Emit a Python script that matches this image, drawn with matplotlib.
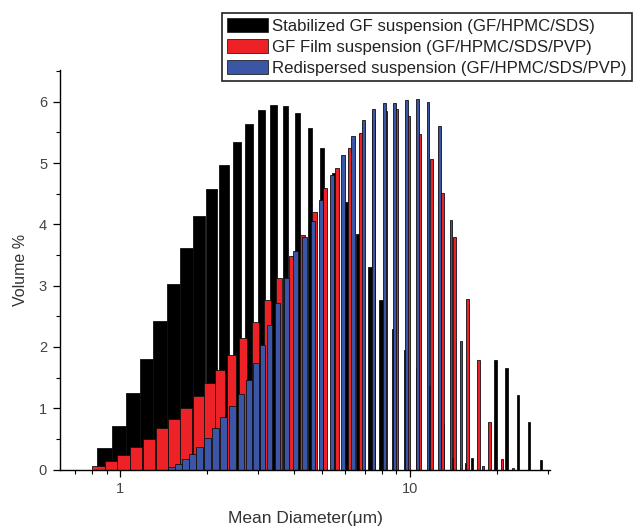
import matplotlib
matplotlib.use("Agg")
import matplotlib.pyplot as plt
from matplotlib.patches import Patch
from matplotlib.ticker import FixedLocator, MultipleLocator, NullFormatter, FuncFormatter
import numpy as np

plt.rcParams['font.family'] = ['Liberation Sans', 'DejaVu Sans']

# --- data (diameter in um, volume in %) ---
black_x = [0.882, 0.994, 1.111, 1.236, 1.374, 1.529, 1.698, 1.869, 2.065, 2.288,
           2.537, 2.797, 3.081, 3.388, 3.727, 4.111, 4.539, 4.973, 5.470, 6.016,
           6.633, 7.318, 7.988, 8.831, 9.726, 10.68, 11.75, 12.90, 14.19, 15.64,
           16.43, 19.80, 21.60, 23.63, 25.79, 28.30]
black_vol = [0.35, 0.71, 1.25, 1.81, 2.42, 3.03, 3.61, 4.14, 4.58, 4.97,
             5.35, 5.64, 5.86, 5.95, 5.94, 5.82, 5.58, 5.25, 4.84, 4.36,
             3.84, 3.31, 2.76, 2.29, 1.95, 1.65, 1.36, 0.75, 0.18, 0.11,
             0.18, 1.78, 1.65, 1.22, 0.77, 0.16]

red_x = [0.842, 0.933, 1.030, 1.138, 1.261, 1.396, 1.538, 1.693, 1.869, 2.043,
         2.222, 2.424, 2.656, 2.933, 3.227, 3.534, 3.909, 4.261, 4.693, 5.105,
         5.601, 6.211, 6.793, 7.513, 8.265, 9.022, 9.921, 10.83, 11.91, 13.00,
         14.30, 15.85, 17.30, 18.87, 20.77, 22.66]
red_vol = [0.06, 0.14, 0.24, 0.36, 0.50, 0.67, 0.83, 1.01, 1.20, 1.41,
           1.63, 1.87, 2.14, 2.41, 2.76, 3.12, 3.48, 3.83, 4.20, 4.59,
           4.92, 5.25, 5.49, 5.70, 5.85, 5.89, 5.77, 5.48, 5.07, 4.51,
           3.80, 2.78, 1.79, 0.77, 0.17, 0.03]

blue_x = [1.508, 1.589, 1.682, 1.781, 1.883, 2.003, 2.135, 2.281, 2.444, 2.614,
          2.797, 2.945, 3.101, 3.290, 3.506, 3.766, 4.030, 4.329, 4.648, 4.961,
          5.405, 5.875, 6.375, 6.923, 7.495, 8.200, 8.880, 9.741, 10.63, 11.57,
          12.69, 13.91, 15.08, 17.86]
blue_vol = [0.04, 0.09, 0.17, 0.25, 0.37, 0.51, 0.67, 0.85, 1.03, 1.24,
            1.46, 1.73, 2.03, 2.36, 2.72, 3.12, 3.56, 3.80, 4.05, 4.40,
            4.81, 5.14, 5.44, 5.70, 5.89, 5.98, 5.98, 6.03, 6.05, 5.99,
            5.61, 4.08, 2.10, 0.05]

labels = ["Stabilized GF suspension (GF/HPMC/SDS)",
          "GF Film suspension (GF/HPMC/SDS/PVP)",
          "Redispersed suspension (GF/HPMC/SDS/PVP)"]
colors = ["#000000", "#ec2227", "#3b56a6"]


def bar_edges(x, knots, widths_px):
    # bars get narrower towards large diameters (width given in px per 290 px decade)
    lx = np.log10(x)
    w = np.interp(lx, np.log10(knots), np.array(widths_px) / 290.0)
    return 10 ** (lx - w / 2), 10 ** (lx + w / 2)


fig = plt.figure(figsize=(6.33, 5.28), dpi=100)
ax = fig.add_axes([60 / 633, 1 - 469.5 / 528, 490 / 633, 399.5 / 528])

series = [
    (black_x, black_vol, [0.85, 1.43, 1.89, 2.6, 3.4, 4.9, 12.7, 16.1, 33],
     [15, 13.3, 12, 8.5, 6, 4, 4, 2.5, 2]),
    (red_x, red_vol, [0.82, 1.89, 2.39, 3.56, 5.3, 9.2, 33],
     [12.7, 12, 9, 6, 4.5, 3, 1.8]),
    (blue_x, blue_vol, [1.43, 2.6, 3.5, 5.0, 9.0, 16],
     [7, 6.5, 5, 4, 3, 2]),
]
for (x, v, kn, wd), c in zip(series, colors):
    x = np.array(x)
    lo, hi = bar_edges(x, kn, wd)
    ax.bar(lo, v, width=hi - lo, align='edge', color=c,
           edgecolor='#111111', linewidth=0.6)

ax.set_xscale('log')
ax.set_xlim(0.621, 30.5)
ax.set_ylim(0, 6.52)

ax.xaxis.set_major_locator(FixedLocator([1, 10]))
ax.xaxis.set_major_formatter(FuncFormatter(lambda v, p: "%g" % v))
ax.xaxis.set_minor_locator(FixedLocator([0.7, 0.8, 0.9, 2, 3, 4, 5, 6, 7, 8, 9, 20, 30]))
ax.xaxis.set_minor_formatter(NullFormatter())
ax.yaxis.set_major_locator(MultipleLocator(1))
ax.yaxis.set_minor_locator(MultipleLocator(0.5))

for s in ['top', 'right']:
    ax.spines[s].set_visible(False)
for s in ['left', 'bottom']:
    ax.spines[s].set_linewidth(1.0)

ax.tick_params(which='major', direction='out', length=4.8, width=0.9,
               labelsize=10.5, labelcolor='#444444', pad=4.5)
ax.tick_params(which='minor', direction='out', length=2.6, width=0.8)

ax.set_xlabel("Mean Diameter(μm)", fontsize=12.5, color='#333333')
ax.set_ylabel("Volume %", fontsize=11.5, color='#333333')
ax.xaxis.set_label_coords(0.5, -0.104)
ax.yaxis.set_label_coords(-0.066, 0.5)

handles = [Patch(facecolor=c, edgecolor='#222222', linewidth=0.6) for c in colors]
leg = fig.legend(handles, labels, loc='upper left',
                 bbox_to_anchor=(222.3 / 633, 1 - 13.3 / 528),
                 fontsize=12.1, frameon=True, fancybox=False, framealpha=1,
                 borderaxespad=0, borderpad=0.28, handlelength=2.45,
                 handleheight=0.9, handletextpad=0.25, labelspacing=0.32)
leg.get_frame().set_edgecolor('#222222')
leg.get_frame().set_linewidth(1.2)
for t in leg.get_texts():
    t.set_color('#222222')

fig.savefig("out.png", dpi=100)
